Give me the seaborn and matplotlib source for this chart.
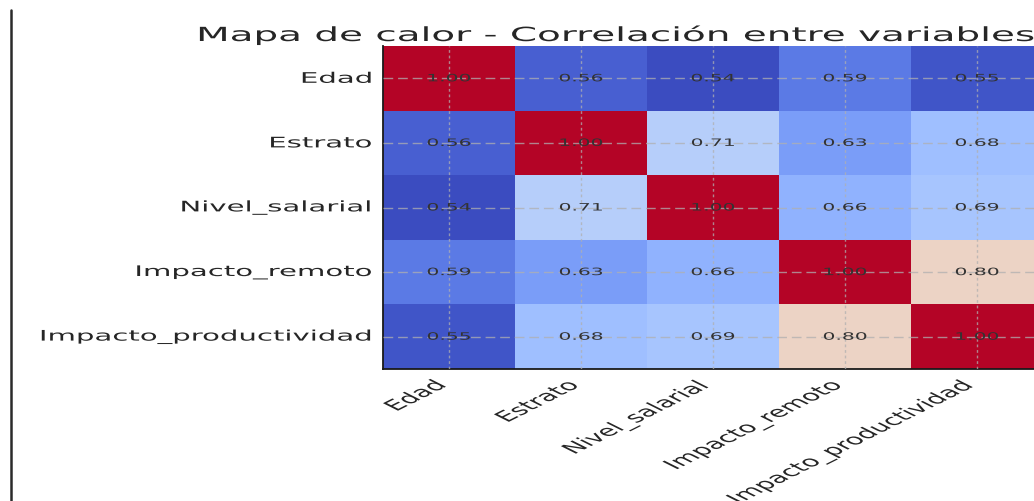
import numpy as np
import pandas as pd
import matplotlib
matplotlib.use("Agg")
import matplotlib.pyplot as plt
import seaborn as sns
from matplotlib import patheffects
from matplotlib.transforms import Affine2D
from matplotlib.lines import Line2D

# ---------------- Data ----------------
variables = ["Edad", "Estrato", "Nivel_salarial", "Impacto_remoto", "Impacto_productividad"]
edad = [1.00, 0.56, 0.54, 0.59, 0.55]
estrato = [0.56, 1.00, 0.71, 0.63, 0.68]
nivel_salarial = [0.54, 0.71, 1.00, 0.66, 0.69]
impacto_remoto = [0.59, 0.63, 0.66, 1.00, 0.80]
impacto_productividad = [0.55, 0.68, 0.69, 0.80, 1.00]
title = "Mapa de calor - Correlación entre variables"

corr = pd.DataFrame(
    [edad, estrato, nivel_salarial, impacto_remoto, impacto_productividad],
    index=variables, columns=variables,
)


# the reference image is stretched horizontally, so the text is too
class HStretch(patheffects.AbstractPathEffect):
    def __init__(self, factor=2.0, anchor=0.5):
        super().__init__()
        self.factor = factor
        self.anchor = anchor

    def draw_path(self, renderer, gc, tpath, affine, rgbFace=None):
        ext = tpath.get_extents(affine)
        x0 = ext.x0 + self.anchor * ext.width
        stretch = Affine2D().translate(-x0, 0).scale(self.factor, 1).translate(x0, 0)
        renderer.draw_path(gc, tpath, affine + stretch, rgbFace)


S = 2.0
W, H = 1034, 502
text_color = "#262626"

# ---------------- Plot ----------------
sns.set_style("white")
plt.rcParams["font.family"] = ["DejaVu Sans"]

fig = plt.figure(figsize=(W / 100, H / 100), dpi=100)
ax = fig.add_axes([383 / W, (H - 370) / H, 660 / W, 323 / H])

sns.heatmap(corr, annot=True, fmt=".2f", cmap="coolwarm", cbar=False, ax=ax,
            annot_kws={"fontsize": 7.3, "color": "#333333",
                       "path_effects": [HStretch(S, 0.5)]})

ax.set_axisbelow(False)
ax.grid(axis="y", color="#b0b0b0", alpha=0.75, lw=1.0, ls=(0, (7, 3.5)))
ax.grid(axis="x", color="#b0b0b0", alpha=0.75, lw=1.0, ls=(0, (2, 2)))

for side in ["left", "bottom"]:
    ax.spines[side].set_visible(True)
    ax.spines[side].set_color("#1a1a1a")
    ax.spines[side].set_linewidth(1.3)
for side in ["top", "right"]:
    ax.spines[side].set_visible(False)

ax.tick_params(axis="y", direction="in", length=5, width=1.2, color="#1a1a1a", pad=8)
ax.tick_params(axis="x", direction="in", length=3.6, width=1.2, color="#1a1a1a", pad=6)

plt.setp(ax.get_yticklabels(), rotation=0, fontsize=10.5, color=text_color,
         path_effects=[HStretch(S, 1.0)])
plt.setp(ax.get_xticklabels(), rotation=45, ha="right", fontsize=10.5, color=text_color,
         path_effects=[HStretch(S, 1.0)])
ax.set_xlabel("")
ax.set_ylabel("")

fig.text(198 / W, 1 - 42 / H, title, fontsize=14, ha="left", va="baseline",
         color=text_color, path_effects=[HStretch(S, 0.0)])

# frame line on the left of the screenshot
fig.add_artist(Line2D([11 / W, 11 / W], [0, 1 - 11 / H], transform=fig.transFigure,
                      color="#2a2a2a", lw=1.8))

fig.savefig("out.png", dpi=100)
